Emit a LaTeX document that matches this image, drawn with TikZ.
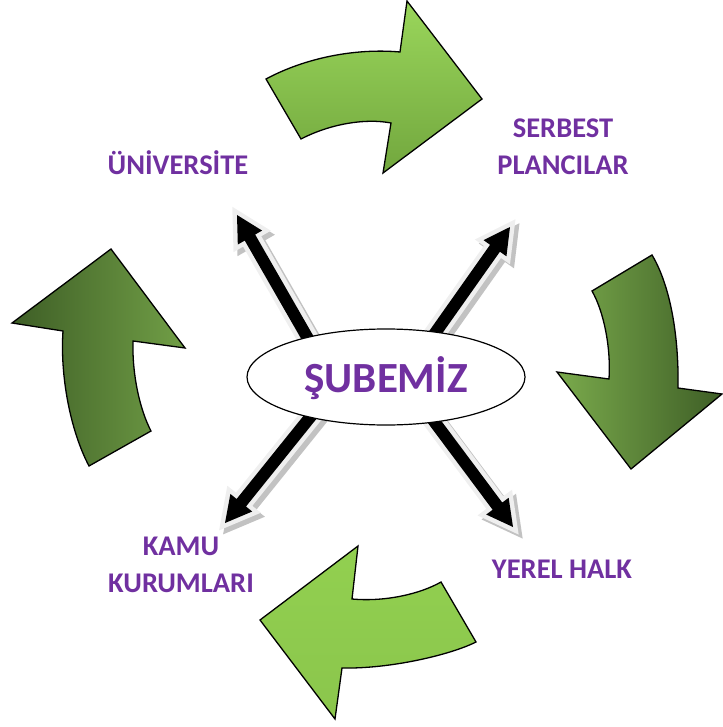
\documentclass[tikz,border=0pt]{standalone}
\usepackage{fontspec}
\setmainfont{Carlito}
\usetikzlibrary{calc,shapes.geometric}
\definecolor{lbl}{HTML}{7030A0}
\definecolor{lgA}{HTML}{9AD65B}
\definecolor{lgB}{HTML}{72A73E}
\definecolor{lgC}{HTML}{92D050}
\definecolor{dgA}{HTML}{7AAA4C}
\definecolor{dgB}{HTML}{3E5E26}
\definecolor{glowc}{HTML}{EFEFEF}
\definecolor{shadc}{HTML}{C2C2C2}
\tikzset{
  bigarrow/.style={draw=black, line width=1.3pt, line join=miter},
  lbltext/.style={text=lbl, font=\bfseries\fontsize{28.5}{37}\selectfont, align=center, inner sep=0pt},
  hub/.style={ellipse, draw=black, line width=1.2pt, fill=white, minimum width=278pt, minimum height=96pt,
    inner sep=0pt, text=lbl, text height=30pt, text depth=0pt, font=\bfseries\fontsize{43}{44}\selectfont},
  arrshadow/.style={fill=shadc, draw=shadc, line width=9pt, line join=miter, transform canvas={xshift=4pt,yshift=-4pt}},
  arrglow/.style={fill=glowc, draw=glowc, line width=9pt, line join=miter},
  arrcore/.style={fill=black},
}
\newcommand\blockarrow[3]{% #1 style, #2 start, #3 tip
  \coordinate (nk) at ($(#3)!26pt!(#2)$);
  \path[#1] ($(#2)!6pt!90:(#3)$) -- ($(nk)!6pt!-90:(#2)$) -- ($(nk)!14pt!-90:(#2)$) -- (#3)
    -- ($(nk)!14pt!90:(#2)$) -- ($(nk)!6pt!90:(#2)$) -- ($(#2)!6pt!-90:(#3)$) -- cycle;
}
\begin{document}
\begin{tikzpicture}[x=1pt,y=-1pt]
\useasboundingbox (0,0) rectangle (722,727);

% curved cycle arrows
\path[bigarrow, top color=lgA, bottom color=lgB]
  (266,79) .. controls (305,58) and (355,48) .. (400,52) -- (407,1) -- (482,99) -- (383,173)
  -- (391,123) .. controls (365,118) and (330,124) .. (301,139) -- cycle;
\path[bigarrow, left color=dgA, right color=dgB]
  (592,291) -- (652,255) .. controls (670,285) and (679,335) .. (678,388) -- (722,394) -- (631,469)
  -- (557,372) -- (609,379) .. controls (611,348) and (604,312) .. (592,291) -- cycle;
\path[bigarrow, top color=lgC, bottom color=lgC!95!black]
  (352,599) .. controls (385,602) and (420,594) .. (441,582) -- (476,642)
  .. controls (450,655) and (390,669) .. (342,668) -- (335,719) -- (260,620) -- (358,546) -- cycle;
\path[bigarrow, left color=dgB, right color=dgA!85!dgB]
  (111,249) -- (185,348) -- (133,341) .. controls (132,375) and (140,410) .. (151,431)
  -- (89,466) .. controls (70,430) and (60,375) .. (63,331) -- (12,323) -- cycle;

% straight arrows: start points hidden under the hub, tips as free ends
\coordinate (sUL) at (326,370); \coordinate (tUL) at (237,215);
\coordinate (sUR) at (409,370); \coordinate (tUR) at (510,227);
\coordinate (sBL) at (336,385); \coordinate (tBL) at (225,523);
\coordinate (sBR) at (407,385); \coordinate (tBR) at (513,527);

\blockarrow{arrshadow}{sUL}{tUL}
\blockarrow{arrshadow}{sUR}{tUR}
\blockarrow{arrshadow}{sBL}{tBL}
\blockarrow{arrshadow}{sBR}{tBR}
\blockarrow{arrglow}{sUL}{tUL}
\blockarrow{arrglow}{sUR}{tUR}
\blockarrow{arrglow}{sBL}{tBL}
\blockarrow{arrglow}{sBR}{tBR}
\blockarrow{arrcore}{sUL}{tUL}
\blockarrow{arrcore}{sUR}{tUR}
\blockarrow{arrcore}{sBL}{tBL}
\blockarrow{arrcore}{sBR}{tBR}

% hub
\node[hub] (hub) at (386,377) {ŞUBEMİZ};

% labels
\node[lbltext, anchor=base] (uni) at (178,175) {ÜNİVERSİTE};
\node[lbltext, anchor=base] (serb) at (563,175) {SERBEST\\PLANCILAR};
\node[lbltext, anchor=base] (kamu) at (181,592) {KAMU\\KURUMLARI};
\node[lbltext, anchor=base] (yerel) at (562,578) {YEREL HALK};
\end{tikzpicture}
\end{document}
